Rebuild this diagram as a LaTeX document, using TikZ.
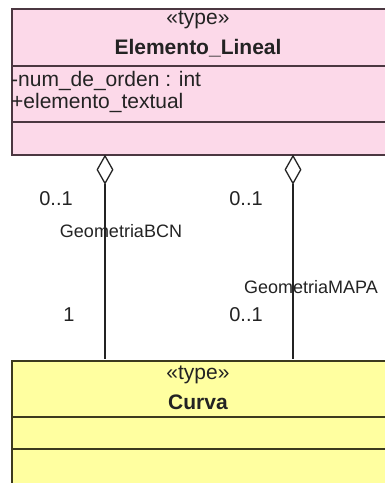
\documentclass[tikz,border=0pt]{standalone}
\usepackage{fontspec}
\setmainfont{Liberation Sans}
\usetikzlibrary{shapes.geometric}
\definecolor{pinkfill}{RGB}{252,217,233}
\definecolor{pinkline}{RGB}{75,55,65}
\definecolor{yelfill}{RGB}{255,255,160}
\definecolor{yelline}{RGB}{60,58,30}
\definecolor{txt}{RGB}{35,35,35}
\begin{document}
\begin{tikzpicture}[x=1pt,y=-1pt,
  classbox/.style={draw, line width=2pt, rectangle, inner sep=0pt, anchor=north west},
  maintext/.style={font=\fontsize{21}{24}\selectfont, text=txt, inner sep=0pt},
  boldtext/.style={maintext, font=\fontsize{21}{24}\selectfont\bfseries},
  lbl/.style={font=\fontsize{20}{24}\selectfont, text=txt, inner sep=0pt},
  rolelbl/.style={font=\fontsize{18}{22}\selectfont, text=txt, inner sep=0pt},
  agg/.style={draw=txt, fill=white, shape=diamond, line width=1.3pt, minimum width=16pt, minimum height=28pt, inner sep=0pt, anchor=north},
  conn/.style={draw=txt, line width=1.4pt}]
\useasboundingbox (0,0) rectangle (385,483);
\fill[white] (0,0) rectangle (385,483);
% Elemento_Lineal
\node[classbox, draw=pinkline, fill=pinkfill, minimum width=375pt, minimum height=146pt] (el) at (11,8) {};
\draw[pinkline, line width=2pt] (11,66) -- (386,66);
\draw[pinkline, line width=2pt] (11,122) -- (386,122);
\node[maintext] (elst) at (198,20) {«type»};
\node[boldtext] (elname) at (198,48) {Elemento\_Lineal};
\node[maintext, anchor=west] (at1) at (11,81) {-num\_de\_orden : int};
\node[maintext, anchor=west] (at2) at (11,103) {+elemento\_textual};
% Curva
\node[classbox, draw=yelline, fill=yelfill, minimum width=375pt, minimum height=140pt] (cu) at (11,360) {};
\draw[yelline, line width=2pt] (11,417) -- (386,417);
\draw[yelline, line width=2pt] (11,449) -- (386,449);
\node[maintext] (cust) at (198,375) {«type»};
\node[boldtext] (cuname) at (198,402) {Curva};
% aggregation diamonds
\node[agg] (d1) at (105,155) {};
\node[agg] (d2) at (293,155) {};
\coordinate (e1) at (105,359);
\coordinate (e2) at (293,359);
\draw[conn] (d1.south) -- (e1);
\draw[conn] (d2.south) -- (e2);
% labels
\node[lbl] (m1) at (56,199) {0..1};
\node[lbl] (m2) at (246,199) {0..1};
\node[rolelbl] (r1) at (121,231) {GeometriaBCN};
\node[rolelbl] (r2) at (311,287) {GeometriaMAPA};
\node[lbl] (m3) at (69,315) {1};
\node[lbl] (m4) at (246,315) {0..1};
\end{tikzpicture}
\end{document}
